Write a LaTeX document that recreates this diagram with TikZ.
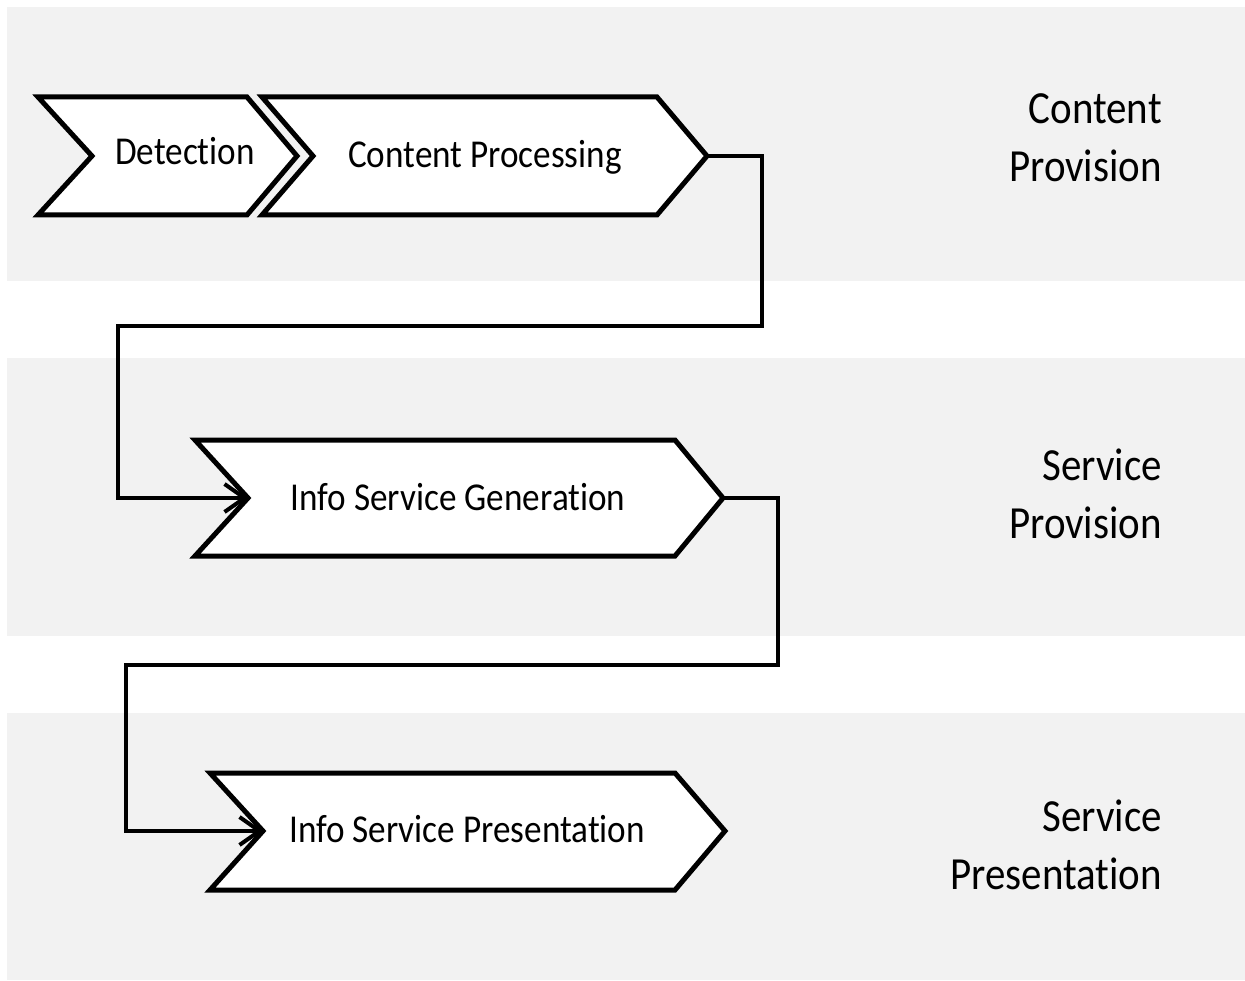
\documentclass[tikz,border=0pt]{standalone}
\usepackage{fontspec}
\setmainfont[FakeStretch=0.89, Ligatures=NoCommon]{Carlito}
\usetikzlibrary{arrows.meta}
\definecolor{band}{HTML}{F2F2F2}
\tikzset{
  lane/.style={fill=band, draw=none},
  chev/.style={draw=black, fill=white, line width=5pt, line join=miter},
  chevtext/.style={anchor=base, inner sep=0pt, font=\fontsize{39.5}{47}\selectfont},
  lanelabel/.style={anchor=east, align=right, inner sep=0pt, font=\fontsize{46}{58}\selectfont},
  flow/.style={draw=black, line width=4pt, line join=miter,
    -{Straight Barb[length=20pt, width=28pt, line width=4pt]}},
}
\begin{document}
\begin{tikzpicture}[x=1pt, y=-1pt]
  \useasboundingbox (0,0) rectangle (1245,981);
  \fill[white] (0,0) rectangle (1245,981);

  % swim lanes
  \path[lane] (7,7) rectangle (1245,281);
  \path[lane] (7,358) rectangle (1245,636);
  \path[lane] (7,713) rectangle (1245,980);

  % process chevrons
  \draw[chev] (38,97) -- (247,97) -- (297,156) -- (247,215) -- (38,215) -- (92,156) -- cycle;
  \draw[chev] (262,97) -- (657,97) -- (707,156) -- (657,215) -- (262,215) -- (313,156) -- cycle;
  \draw[chev] (195,440) -- (675,440) -- (723,498) -- (675,556) -- (195,556) -- (248,498) -- cycle;
  \draw[chev] (210,773) -- (675,773) -- (725,831) -- (675,890) -- (210,890) -- (263,831) -- cycle;

  \coordinate (cp-tip) at (707,156);
  \coordinate (gen-notch) at (248,498);
  \coordinate (gen-tip) at (723,498);
  \coordinate (pres-notch) at (263,831);
  \coordinate (bend1) at (762,326);
  \coordinate (bend2) at (118,498);
  \coordinate (bend3) at (778,665);
  \coordinate (bend4) at (126,831);

  \node[chevtext] (det) at (185,165) {Detection};
  \node[chevtext] (cp) at (485,168) {Content Processing};
  \node[chevtext] (gen) at (458,510) {Info Service Generation};
  \node[chevtext] (pres) at (467,842) {Info Service Presentation};

  % lane labels
  \node[lanelabel] (l1) at (1162,138) {Content\\Provision};
  \node[lanelabel] (l2) at (1162,494) {Service\\Provision};
  \node[lanelabel] (l3) at (1162,845) {Service\\Presentation};

  % connectors between the stages
  \draw[flow] (cp-tip) -| (bend1) -| (bend2) -- (gen-notch);
  \draw[flow] (gen-tip) -| (bend3) -| (bend4) -- (pres-notch);
\end{tikzpicture}
\end{document}
